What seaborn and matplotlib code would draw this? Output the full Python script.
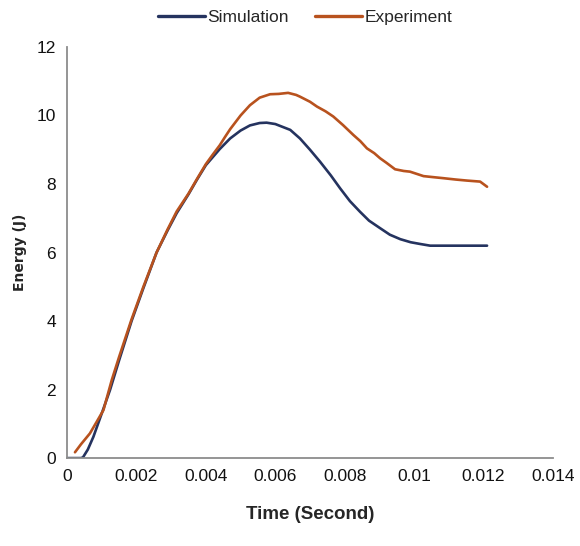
import pandas as pd
import numpy as np
import seaborn as sns
import matplotlib.pyplot as plt
from matplotlib.lines import Line2D

# 数据
sim_time = [0, 0.0004, 0.00046, 0.0006, 0.00076, 0.001, 0.00124, 0.0015, 0.00186, 0.0022,
            0.00258, 0.0029, 0.00316, 0.0035, 0.00374, 0.0040, 0.0044, 0.0047, 0.0050, 0.00527,
            0.00555, 0.00575, 0.006, 0.00643, 0.00671, 0.0070, 0.00729, 0.0076, 0.00787, 0.00815,
            0.00844, 0.0087, 0.00902, 0.0093, 0.0096, 0.0099, 0.01017, 0.01046, 0.011, 0.0115, 0.0121]
sim_energy = [0, 0, 0.02, 0.25, 0.62, 1.3, 1.99, 2.85, 4.0, 4.96,
              6.0, 6.65, 7.15, 7.7, 8.12, 8.55, 9.02, 9.33, 9.56, 9.71,
              9.78, 9.79, 9.75, 9.58, 9.33, 9.0, 8.65, 8.25, 7.87, 7.5,
              7.19, 6.93, 6.71, 6.52, 6.39, 6.3, 6.25, 6.2, 6.2, 6.2, 6.2]

exp_time = [0.00023, 0.0004, 0.00066, 0.00085, 0.00105, 0.00129, 0.0015, 0.00186, 0.0022, 0.00258,
            0.0029, 0.00316, 0.0035, 0.00374, 0.004, 0.0042, 0.0044, 0.00455, 0.0047, 0.0050,
            0.00527, 0.00555, 0.00585, 0.0061, 0.00637, 0.0066, 0.00671, 0.0070, 0.0072, 0.00745,
            0.00767, 0.00795, 0.00825, 0.00845, 0.00864, 0.00885, 0.00902, 0.0092, 0.00945, 0.0097,
            0.00988, 0.01027, 0.01055, 0.01084, 0.0112, 0.01152, 0.0119, 0.0121]
exp_energy = [0.17, 0.4, 0.72, 1.05, 1.4, 2.28, 2.95, 4.05, 5.0, 6.0,
              6.68, 7.2, 7.72, 8.14, 8.58, 8.86, 9.13, 9.37, 9.6, 10.0,
              10.3, 10.52, 10.62, 10.63, 10.66, 10.6, 10.55, 10.4, 10.26, 10.12,
              9.97, 9.72, 9.43, 9.25, 9.04, 8.9, 8.75, 8.62, 8.43, 8.38,
              8.36, 8.23, 8.2, 8.17, 8.13, 8.10, 8.07, 7.92]

x_ticks = [0, 0.002, 0.004, 0.006, 0.008, 0.01, 0.012, 0.014]
x_tick_labels = ['0', '0.002', '0.004', '0.006', '0.008', '0.01', '0.012', '0.014']
y_ticks = [0, 2, 4, 6, 8, 10, 12]

df = pd.concat([
    pd.DataFrame({'Time': sim_time, 'Energy': sim_energy, 'Series': 'Simulation'}),
    pd.DataFrame({'Time': exp_time, 'Energy': exp_energy, 'Series': 'Experiment'}),
])

sns.set_style('white')
font = 'Liberation Sans'

fig = plt.figure(figsize=(5.8, 5.46), dpi=100)
ax = fig.add_axes([0.1155, 0.161, 0.838, 0.753])

palette = {'Simulation': '#25335f', 'Experiment': '#b8521e'}
sns.lineplot(data=df, x='Time', y='Energy', hue='Series', palette=palette,
             sort=False, linewidth=1.9, ax=ax, legend=False)

ax.set_xlim(0, 0.014)
ax.set_ylim(0, 12)
ax.set_xticks(x_ticks)
ax.set_xticklabels(x_tick_labels, family=font, fontsize=12.5)
ax.set_yticks(y_ticks)
ax.set_yticklabels([str(v) for v in y_ticks], family=font, fontsize=12.5)
ax.tick_params(length=0, pad=8, colors='#111111')

for s in ['top', 'right']:
    ax.spines[s].set_visible(False)
for s in ['left', 'bottom']:
    ax.spines[s].set_color('#8c8c8c')
    ax.spines[s].set_linewidth(1.3)

ax.set_xlabel('Time (Second)', family=font, fontsize=13.5, fontweight='bold', labelpad=16)
ax.set_ylabel('Energy (J)', family='DejaVu Sans', fontsize=10, fontweight='bold', labelpad=7)

# 图例放在顶部
handles = [Line2D([], [], color=palette[k], linewidth=2.4) for k in ['Simulation', 'Experiment']]
fig.legend(handles, ['Simulation', 'Experiment'], loc='center', bbox_to_anchor=(0.526, 0.968),
           ncol=2, frameon=False, prop={'family': font, 'size': 12.5},
           handlelength=2.7, handletextpad=0.15, columnspacing=1.5)

plt.savefig('out.png', dpi=100)
